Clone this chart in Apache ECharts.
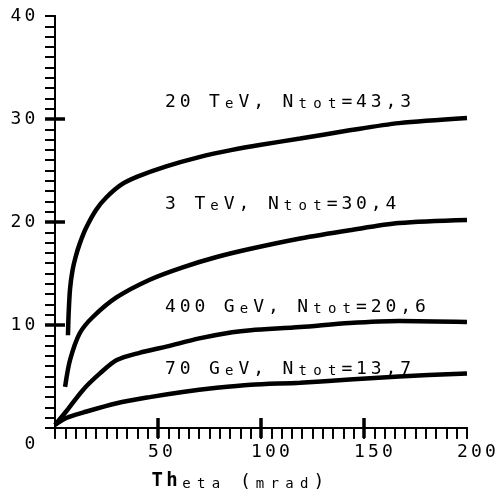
<!DOCTYPE html>
<html>
<head>
<meta charset="utf-8">
<script src="https://cdn.jsdelivr.net/npm/echarts@6/dist/echarts.min.js"></script>
<style>
  html, body { margin: 0; padding: 0; background: #fff; }
  #chart { width: 500px; height: 491px; }
</style>
</head>
<body>
<div id="chart"></div>
<script>
// curves: theta (mrad) and value
var theta20TeV = [6.3, 6.6, 7.3, 8.5, 10, 12, 15, 20, 25, 32, 40, 54, 70, 86, 100, 119, 143, 167, 200];
var value20TeV = [9.0, 11.0, 13.5, 15.3, 16.6, 17.9, 19.4, 21.2, 22.4, 23.6, 24.4, 25.4, 26.3, 27.0, 27.5, 28.1, 28.9, 29.6, 30.1];
var theta3TeV = [4.9, 7.3, 12, 18.5, 30, 46, 62, 78.5, 95, 119, 143, 167, 200];
var value3TeV = [4.0, 6.6, 9.2, 10.8, 12.7, 14.4, 15.6, 16.6, 17.4, 18.4, 19.2, 19.9, 20.2];
var theta400GeV = [0, 5.8, 13.6, 21.8, 30, 41, 54, 70, 86, 95, 119, 143, 167, 200];
var value400GeV = [0.3, 1.7, 3.7, 5.3, 6.6, 7.3, 7.9, 8.7, 9.3, 9.5, 9.8, 10.2, 10.4, 10.3];
var theta70GeV = [0, 5.8, 13.6, 30, 46, 62, 78.5, 95, 119, 143, 167, 200];
var value70GeV = [0.3, 1.0, 1.5, 2.4, 3.0, 3.5, 3.9, 4.2, 4.4, 4.7, 5.0, 5.3];

var curveLabels = ['20 TeV, Ntot=43,3', '3 TeV, Ntot=30,4', '400 GeV, Ntot=20,6', '70 GeV, Ntot=13,7'];
var xLabels = [50, 100, 150, 200];
var yLabels = [0, 10, 20, 30, 40];
var xTicks = [0, 5, 10, 15, 20, 25, 30, 35, 40, 45, 50, 55, 60, 65, 70, 75, 80, 85, 90, 95, 100,
    105, 110, 115, 120, 125, 130, 135, 140, 145, 150, 155, 160, 165, 170, 175, 180, 185, 190, 195, 200];
var yTicks = [0, 1, 2, 3, 4, 5, 6, 7, 8, 9, 10, 11, 12, 13, 14, 15, 16, 17, 18, 19, 20,
    21, 22, 23, 24, 25, 26, 27, 28, 29, 30, 31, 32, 33, 34, 35, 36, 37, 38, 39, 40];
var xMajorTicks = [50, 100, 150];
var yMajorTicks = [10, 20, 30];
var xTitle = 'Theta (mrad)';

var FONT = 'DejaVu Sans Mono';
var rich = {
    c: { fontFamily: FONT, fontSize: 18, width: 14.7, align: 'center', color: '#000', verticalAlign: 'bottom' },
    s: { fontFamily: FONT, fontSize: 14, width: 14.7, align: 'center', color: '#000', verticalAlign: 'bottom' },
    b: { fontFamily: FONT, fontSize: 19, fontWeight: 'bold', width: 14.7, align: 'center', color: '#000', verticalAlign: 'bottom' },
    z: { fontFamily: FONT, fontSize: 18, width: 14, align: 'center', color: '#000', padding: [32, 0, 0, 0] },
    d: { fontFamily: FONT, fontSize: 18, width: 14, align: 'center', color: '#000' }
};

// one rich token per character, plotter style spacing
function spaced(str, boldCount) {
    var out = '';
    str.split('').forEach(function (ch, i) {
        var st = 'c';
        if (i < (boldCount || 0)) st = 'b';
        else if (ch >= 'a' && ch <= 'z') st = 's';
        out += '{' + st + '|' + ch + '}';
    });
    return out;
}
function digits(str, st) {
    return str.split('').map(function (ch) { return '{' + st + '|' + ch + '}'; }).join('');
}

var X_SHIFT = 5.6;  // label starts a little left of its tick
var MAJOR_HALF = 10; // px each side of the axis line

function line(th, v) {
    return {
        type: 'line',
        data: th.map(function (t, i) { return [t, v[i]]; }),
        showSymbol: false,
        smooth: 0.3,
        clip: false,
        lineStyle: { color: '#000', width: 4.5 },
        silent: true
    };
}

// major ticks cross the axis line
function majorTickSeries(values, onX) {
    return {
        type: 'custom',
        clip: false,
        silent: true,
        data: values,
        renderItem: function (params, api) {
            var v = api.value(0);
            var p = onX ? api.coord([v, 0]) : api.coord([0, v]);
            var shape = onX
                ? { x1: p[0], y1: p[1] - MAJOR_HALF, x2: p[0], y2: p[1] + MAJOR_HALF }
                : { x1: p[0] - MAJOR_HALF, y1: p[1], x2: p[0] + MAJOR_HALF, y2: p[1] };
            return { type: 'line', shape: shape, style: { stroke: '#000', lineWidth: 3.5 } };
        },
        encode: onX ? { x: 0 } : { y: 0 }
    };
}

var thin = { color: '#000', width: 1.8 };

var chart = echarts.init(document.getElementById('chart'));
chart.setOption({
    animation: false,
    backgroundColor: '#fff',
    grid: { left: 55, right: 33, top: 16, bottom: 63, outerBoundsMode: 'none', containLabel: false },
    xAxis: [
        {
            type: 'value', position: 'bottom', min: 0, max: 200,
            splitLine: { show: false },
            axisLine: { lineStyle: { color: '#000', width: 2 } },
            axisTick: { show: true, customValues: xTicks, inside: false, length: 10, lineStyle: thin },
            axisLabel: {
                customValues: xLabels.map(function (v) { return v - X_SHIFT; }),
                align: 'left', margin: 15,
                formatter: function (v) { return digits(String(Math.round(v + X_SHIFT)), 'd'); },
                rich: rich
            },
            name: spaced(xTitle, 2),
            nameLocation: 'middle', nameGap: 44,
            nameTextStyle: { rich: rich, padding: [0, 46, 0, 0] }
        },
        {
            type: 'value', position: 'top', min: 0, max: 200,
            splitLine: { show: false }, axisLabel: { show: false },
            axisLine: { lineStyle: { color: '#000', width: 2 } },
            axisTick: { show: true, customValues: xTicks, inside: true, length: 11, lineStyle: thin }
        }
    ],
    yAxis: [
        {
            type: 'value', position: 'left', min: 0, max: 40,
            splitLine: { show: false },
            axisLine: { lineStyle: { color: '#000', width: 2 } },
            axisTick: { show: true, customValues: yTicks, inside: false, length: 10, lineStyle: thin },
            axisLabel: {
                customValues: yLabels, margin: 18,
                formatter: function (v) { return digits(String(v), v === 0 ? 'z' : 'd'); },
                rich: rich
            }
        },
        {
            type: 'value', position: 'right', min: 0, max: 40,
            splitLine: { show: false }, axisLabel: { show: false },
            axisLine: { lineStyle: { color: '#000', width: 2 } },
            axisTick: { show: true, customValues: yTicks, inside: true, length: 10, lineStyle: thin }
        }
    ],
    series: [
        line(theta20TeV, value20TeV),
        line(theta3TeV, value3TeV),
        line(theta400GeV, value400GeV),
        line(theta70GeV, value70GeV),
        majorTickSeries(xMajorTicks, true),
        majorTickSeries(yMajorTicks, false)
    ],
    graphic: [
        { type: 'text', left: 165, top: 93, style: { text: spaced(curveLabels[0]), rich: rich } },
        { type: 'text', left: 165, top: 195, style: { text: spaced(curveLabels[1]), rich: rich } },
        { type: 'text', left: 165, top: 298, style: { text: spaced(curveLabels[2]), rich: rich } },
        { type: 'text', left: 165, top: 360, style: { text: spaced(curveLabels[3]), rich: rich } }
    ]
});
</script>
</body>
</html>
